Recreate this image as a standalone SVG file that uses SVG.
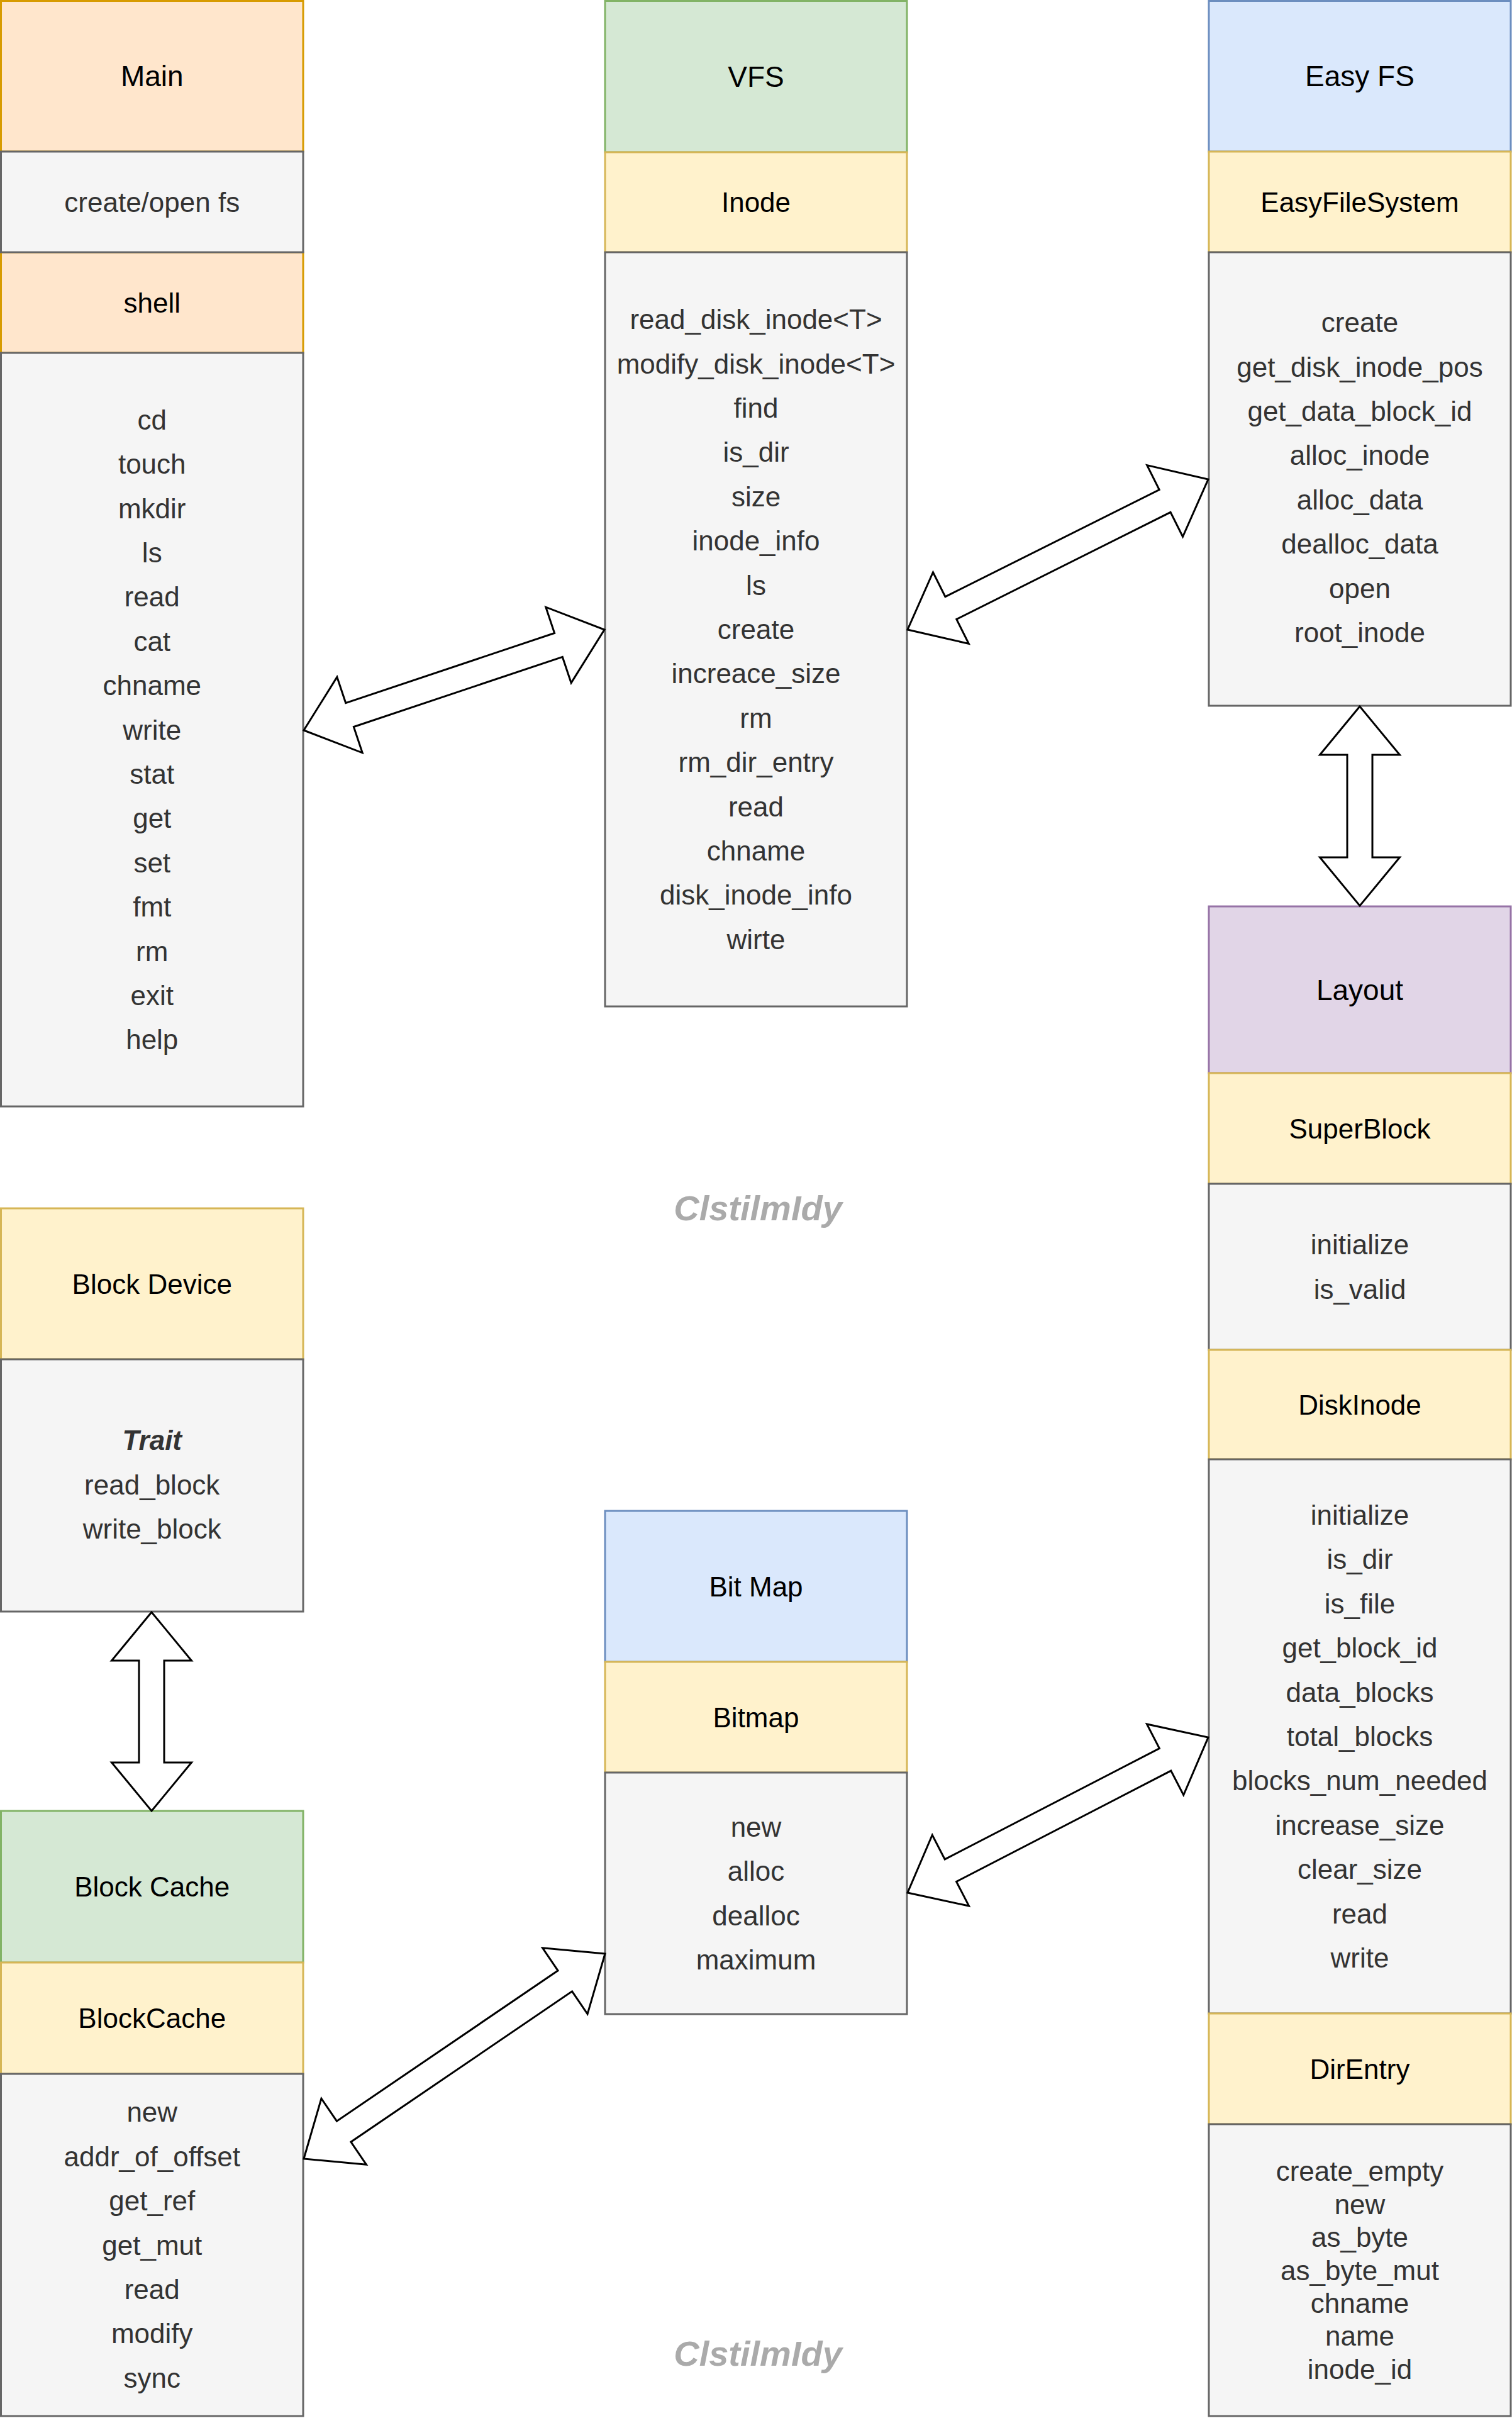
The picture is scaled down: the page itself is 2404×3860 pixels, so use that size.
<svg xmlns="http://www.w3.org/2000/svg" width="2404" height="3860" viewBox="0 0 2404 3860">
<style>
rect{stroke-width:3}
.or{fill:#ffe6cc;stroke:#d79b00}
.gr{fill:#f5f5f5;stroke:#666666}
.gn{fill:#d5e8d4;stroke:#82b366}
.ye{fill:#fff2cc;stroke:#d6b656}
.bl{fill:#dae8fc;stroke:#6c8ebf}
.pu{fill:#e1d5e7;stroke:#9673a6}
text{font-family:"Liberation Sans",Arial,Helvetica,sans-serif;text-anchor:middle;dominant-baseline:central}
.h{font-size:44px;fill:#000}
.t{font-size:46px;fill:#000}
.m{font-size:44px;fill:#333333}
.wm{font-size:56px;font-weight:bold;font-style:italic;fill:#aaaaaa;dominant-baseline:alphabetic}
.arr{fill:#ffffff;stroke:#000000;stroke-width:3;stroke-linejoin:miter}
</style>
<rect width="2404" height="3860" fill="#ffffff"/>

<g id="main">
<rect class="or" x="1.5" y="1.5" width="480.5" height="239.5"/>
<rect class="or" x="1.5" y="401" width="480.5" height="160"/>
<rect class="gr" x="1.5" y="241" width="480.5" height="160"/>
<rect class="gr" x="1.5" y="561" width="480.5" height="1198"/>
<text class="t" x="241.75" y="121">Main</text>
<text class="m" x="241.75" y="321">create/open fs</text>
<text class="h" x="241.75" y="481">shell</text>
<text class="m" x="241.75" y="667.2">cd</text>
<text class="m" x="241.75" y="737.6">touch</text>
<text class="m" x="241.75" y="808">mkdir</text>
<text class="m" x="241.75" y="878.4">ls</text>
<text class="m" x="241.75" y="948.8">read</text>
<text class="m" x="241.75" y="1019.2">cat</text>
<text class="m" x="241.75" y="1089.6">chname</text>
<text class="m" x="241.75" y="1160">write</text>
<text class="m" x="241.75" y="1230.4">stat</text>
<text class="m" x="241.75" y="1300.8">get</text>
<text class="m" x="241.75" y="1371.2">set</text>
<text class="m" x="241.75" y="1441.6">fmt</text>
<text class="m" x="241.75" y="1512">rm</text>
<text class="m" x="241.75" y="1582.4">exit</text>
<text class="m" x="241.75" y="1652.8">help</text>
</g>

<g id="vfs">
<rect class="gn" x="962" y="1.5" width="480" height="240.5"/>
<rect class="ye" x="962" y="242" width="480" height="159"/>
<rect class="gr" x="962" y="401" width="480" height="1199"/>
<text class="t" x="1202" y="121.5">VFS</text>
<text class="h" x="1202" y="321.5">Inode</text>
<text class="m" x="1202" y="507.7">read_disk_inode&lt;T&gt;</text>
<text class="m" x="1202" y="578.1">modify_disk_inode&lt;T&gt;</text>
<text class="m" x="1202" y="648.5">find</text>
<text class="m" x="1202" y="718.9">is_dir</text>
<text class="m" x="1202" y="789.3">size</text>
<text class="m" x="1202" y="859.7">inode_info</text>
<text class="m" x="1202" y="930.1">ls</text>
<text class="m" x="1202" y="1000.5">create</text>
<text class="m" x="1202" y="1070.9">increace_size</text>
<text class="m" x="1202" y="1141.3">rm</text>
<text class="m" x="1202" y="1211.7">rm_dir_entry</text>
<text class="m" x="1202" y="1282.1">read</text>
<text class="m" x="1202" y="1352.5">chname</text>
<text class="m" x="1202" y="1422.9">disk_inode_info</text>
<text class="m" x="1202" y="1493.3">wirte</text>
</g>

<g id="easyfs">
<rect class="bl" x="1922" y="1.5" width="480" height="239.5"/>
<rect class="ye" x="1922" y="241" width="480" height="160"/>
<rect class="gr" x="1922" y="401" width="480" height="721"/>
<text class="t" x="2162" y="121">Easy FS</text>
<text class="h" x="2162" y="321">EasyFileSystem</text>
<text class="m" x="2162" y="512.6">create</text>
<text class="m" x="2162" y="583">get_disk_inode_pos</text>
<text class="m" x="2162" y="653.4">get_data_block_id</text>
<text class="m" x="2162" y="723.8">alloc_inode</text>
<text class="m" x="2162" y="794.2">alloc_data</text>
<text class="m" x="2162" y="864.6">dealloc_data</text>
<text class="m" x="2162" y="935">open</text>
<text class="m" x="2162" y="1005.4">root_inode</text>
</g>

<g id="layout">
<rect class="pu" x="1922" y="1441" width="480" height="265"/>
<rect class="ye" x="1922" y="1706" width="480" height="176"/>
<rect class="gr" x="1922" y="1882" width="480" height="264"/>
<rect class="ye" x="1922" y="2146" width="480" height="174"/>
<rect class="gr" x="1922" y="2320" width="480" height="881"/>
<rect class="ye" x="1922" y="3201" width="480" height="176"/>
<rect class="gr" x="1922" y="3377" width="480" height="464"/>
<text class="t" x="2162" y="1573.5">Layout</text>
<text class="h" x="2162" y="1794">SuperBlock</text>
<text class="m" x="2162" y="1978.8">initialize</text>
<text class="m" x="2162" y="2049.2">is_valid</text>
<text class="h" x="2162" y="2233">DiskInode</text>
<text class="m" x="2162" y="2408.5">initialize</text>
<text class="m" x="2162" y="2478.9">is_dir</text>
<text class="m" x="2162" y="2549.3">is_file</text>
<text class="m" x="2162" y="2619.7">get_block_id</text>
<text class="m" x="2162" y="2690.1">data_blocks</text>
<text class="m" x="2162" y="2760.5">total_blocks</text>
<text class="m" x="2162" y="2830.9">blocks_num_needed</text>
<text class="m" x="2162" y="2901.3">increase_size</text>
<text class="m" x="2162" y="2971.7">clear_size</text>
<text class="m" x="2162" y="3042.1">read</text>
<text class="m" x="2162" y="3112.5">write</text>
<text class="h" x="2162" y="3289">DirEntry</text>
<text class="m" x="2162" y="3451.8">create_empty</text>
<text class="m" x="2162" y="3504.2">new</text>
<text class="m" x="2162" y="3556.6">as_byte</text>
<text class="m" x="2162" y="3609">as_byte_mut</text>
<text class="m" x="2162" y="3661.4">chname</text>
<text class="m" x="2162" y="3713.8">name</text>
<text class="m" x="2162" y="3766.2">inode_id</text>
</g>

<g id="blockdevice">
<rect class="ye" x="1.5" y="1921" width="480.5" height="240"/>
<rect class="gr" x="1.5" y="2161" width="480.5" height="401"/>
<text class="h" x="241.75" y="2041">Block Device</text>
<text class="m" x="241.75" y="2289.6" font-weight="bold" font-style="italic">Trait</text>
<text class="m" x="241.75" y="2360">read_block</text>
<text class="m" x="241.75" y="2430.4">write_block</text>
</g>

<g id="blockcache">
<rect class="gn" x="1.5" y="2879" width="480.5" height="241"/>
<rect class="ye" x="1.5" y="3120" width="480.5" height="177"/>
<rect class="gr" x="1.5" y="3297" width="480.5" height="544"/>
<text class="h" x="241.75" y="2999.5">Block Cache</text>
<text class="h" x="241.75" y="3208.5">BlockCache</text>
<text class="m" x="241.75" y="3357.8">new</text>
<text class="m" x="241.75" y="3428.2">addr_of_offset</text>
<text class="m" x="241.75" y="3498.6">get_ref</text>
<text class="m" x="241.75" y="3569">get_mut</text>
<text class="m" x="241.75" y="3639.4">read</text>
<text class="m" x="241.75" y="3709.8">modify</text>
<text class="m" x="241.75" y="3780.2">sync</text>
</g>

<g id="bitmap">
<rect class="bl" x="962" y="2402" width="480" height="240"/>
<rect class="ye" x="962" y="2642" width="480" height="176"/>
<rect class="gr" x="962" y="2818" width="480" height="384"/>
<text class="h" x="1202" y="2522">Bit Map</text>
<text class="h" x="1202" y="2730">Bitmap</text>
<text class="m" x="1202" y="2904.4">new</text>
<text class="m" x="1202" y="2974.8">alloc</text>
<text class="m" x="1202" y="3045.2">dealloc</text>
<text class="m" x="1202" y="3115.6">maximum</text>
</g>

<g id="watermarks">
<text class="wm" x="1205" y="1940">ClstilmIdy</text>
<text class="wm" x="1205" y="3761">ClstilmIdy</text>
</g>

<g id="connectors">
<polygon class="arr" points="483,1161 576.18,1196.78 562.37,1155.53 894.33,1044.41 908.14,1085.66 961,1001 867.82,965.22 881.63,1006.47 549.67,1117.59 535.86,1076.34"/>
<polygon class="arr" points="1443,1001 1540.27,1023.36 1520.81,984.45 1861.07,814.33 1880.53,853.24 1921,762 1823.73,739.64 1843.19,778.55 1502.93,948.67 1483.47,909.76"/>
<polygon class="arr" points="2162,1123 2098.5,1200 2142,1200 2142,1363 2098.5,1363 2162,1440 2225.5,1363 2182,1363 2182,1200 2225.5,1200"/>
<polygon class="arr" points="1443,3009 1540.56,3030.06 1520.59,2991.42 1861.77,2815.12 1881.74,2853.76 1921,2762 1823.44,2740.94 1843.41,2779.58 1502.23,2955.88 1482.26,2917.24"/>
<polygon class="arr" points="962,3106 862.61,3096.82 887.09,3132.79 535.41,3372.15 510.93,3336.18 483,3432 582.39,3441.18 557.91,3405.21 909.59,3165.85 934.07,3201.82"/>
<polygon class="arr" points="241,2563 177.5,2640 221,2640 221,2802 177.5,2802 241,2879 304.5,2802 261,2802 261,2640 304.5,2640"/>
</g>
</svg>
